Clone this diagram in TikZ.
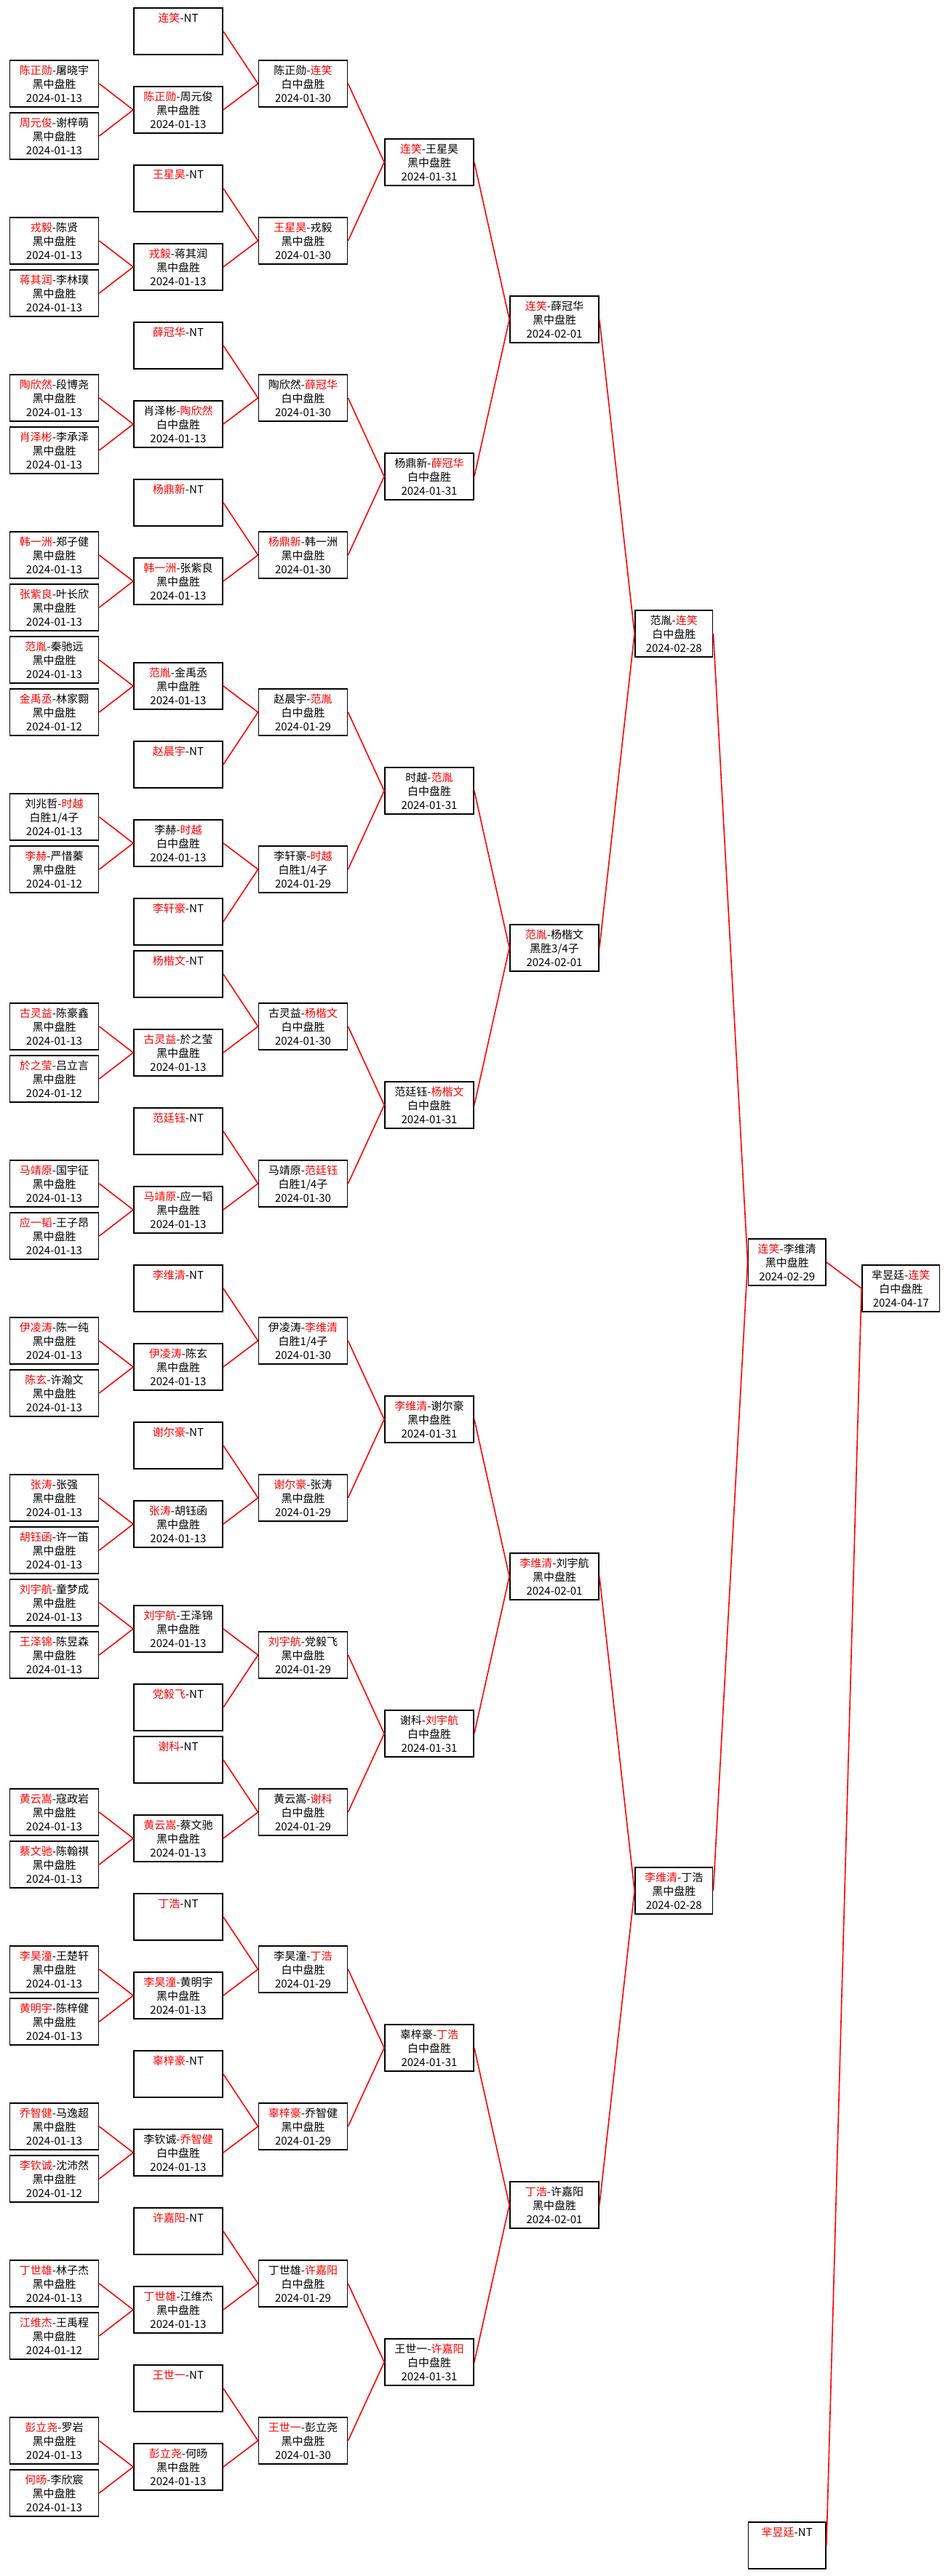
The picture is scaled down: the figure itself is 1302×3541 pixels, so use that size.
\documentclass[tikz,border=0pt]{standalone}
\usepackage{fontspec}
\setmainfont{Noto Sans CJK SC}
\newcommand\rn[1]{\textcolor{red}{#1}}
\newcommand\nt[1]{\rn{#1}-NT\\\phantom{黑}\\\phantom{0}}
\tikzset{
 box/.style={draw=black, line width=1.8pt, fill=white, rectangle, inner sep=0pt,
   minimum height=64pt, align=center, font=\fontsize{15}{19}\selectfont},
 conn/.style={draw=red, line width=1.6pt},
}
% name, x-left, slot, width, text
\newcommand\bx[5]{\node[box, minimum width=#4pt] (#1) at ({#2+#4/2},{-(43+72*#3)}) {#5};}
\begin{document}
\begin{tikzpicture}[x=1pt,y=1pt]
\useasboundingbox[fill=white] (0,0) rectangle (1302,-3541);
% ---------- column 0 ----------
\bx{a1}{13.5}{1}{122}{\rn{陈正勋}-屠晓宇\\黑中盘胜\\2024-01-13}
\bx{a2}{13.5}{2}{122}{\rn{周元俊}-谢梓萌\\黑中盘胜\\2024-01-13}
\bx{a4}{13.5}{4}{122}{\rn{戎毅}-陈贤\\黑中盘胜\\2024-01-13}
\bx{a5}{13.5}{5}{122}{\rn{蒋其润}-李林璞\\黑中盘胜\\2024-01-13}
\bx{a7}{13.5}{7}{122}{\rn{陶欣然}-段博尧\\黑中盘胜\\2024-01-13}
\bx{a8}{13.5}{8}{122}{\rn{肖泽彬}-李承泽\\黑中盘胜\\2024-01-13}
\bx{a10}{13.5}{10}{122}{\rn{韩一洲}-郑子健\\黑中盘胜\\2024-01-13}
\bx{a11}{13.5}{11}{122}{\rn{张紫良}-叶长欣\\黑中盘胜\\2024-01-13}
\bx{a12}{13.5}{12}{122}{\rn{范胤}-秦驰远\\黑中盘胜\\2024-01-13}
\bx{a13}{13.5}{13}{122}{\rn{金禹丞}-林家翾\\黑中盘胜\\2024-01-12}
\bx{a15}{13.5}{15}{122}{刘兆哲-\rn{时越}\\白胜1/4子\\2024-01-13}
\bx{a16}{13.5}{16}{122}{\rn{李赫}-严惜蓁\\黑中盘胜\\2024-01-12}
\bx{a19}{13.5}{19}{122}{\rn{古灵益}-陈豪鑫\\黑中盘胜\\2024-01-13}
\bx{a20}{13.5}{20}{122}{\rn{於之莹}-吕立言\\黑中盘胜\\2024-01-12}
\bx{a22}{13.5}{22}{122}{\rn{马靖原}-国宇征\\黑中盘胜\\2024-01-13}
\bx{a23}{13.5}{23}{122}{\rn{应一韬}-王子昂\\黑中盘胜\\2024-01-13}
\bx{a25}{13.5}{25}{122}{\rn{伊凌涛}-陈一纯\\黑中盘胜\\2024-01-13}
\bx{a26}{13.5}{26}{122}{\rn{陈玄}-许瀚文\\黑中盘胜\\2024-01-13}
\bx{a28}{13.5}{28}{122}{\rn{张涛}-张强\\黑中盘胜\\2024-01-13}
\bx{a29}{13.5}{29}{122}{\rn{胡钰函}-许一笛\\黑中盘胜\\2024-01-13}
\bx{a30}{13.5}{30}{122}{\rn{刘宇航}-童梦成\\黑中盘胜\\2024-01-13}
\bx{a31}{13.5}{31}{122}{\rn{王泽锦}-陈昱森\\黑中盘胜\\2024-01-13}
\bx{a34}{13.5}{34}{122}{\rn{黄云嵩}-寇政岩\\黑中盘胜\\2024-01-13}
\bx{a35}{13.5}{35}{122}{\rn{蔡文驰}-陈翰祺\\黑中盘胜\\2024-01-13}
\bx{a37}{13.5}{37}{122}{\rn{李昊潼}-王楚轩\\黑中盘胜\\2024-01-13}
\bx{a38}{13.5}{38}{122}{\rn{黄明宇}-陈梓健\\黑中盘胜\\2024-01-13}
\bx{a40}{13.5}{40}{122}{\rn{乔智健}-马逸超\\黑中盘胜\\2024-01-13}
\bx{a41}{13.5}{41}{122}{\rn{李钦诚}-沈沛然\\黑中盘胜\\2024-01-12}
\bx{a43}{13.5}{43}{122}{\rn{丁世雄}-林子杰\\黑中盘胜\\2024-01-13}
\bx{a44}{13.5}{44}{122}{\rn{江维杰}-王禹程\\黑中盘胜\\2024-01-12}
\bx{a46}{13.5}{46}{122}{\rn{彭立尧}-罗岩\\黑中盘胜\\2024-01-13}
\bx{a47}{13.5}{47}{122}{\rn{何旸}-李欣宸\\黑中盘胜\\2024-01-13}
% ---------- column 1: byes ----------
\bx{n0}{184}{0}{122}{\nt{连笑}}
\bx{n3}{184}{3}{122}{\nt{王星昊}}
\bx{n6}{184}{6}{122}{\nt{薛冠华}}
\bx{n9}{184}{9}{122}{\nt{杨鼎新}}
\bx{n14}{184}{14}{122}{\nt{赵晨宇}}
\bx{n17}{184}{17}{122}{\nt{李轩豪}}
\bx{n18}{184}{18}{122}{\nt{杨楷文}}
\bx{n21}{184}{21}{122}{\nt{范廷钰}}
\bx{n24}{184}{24}{122}{\nt{李维清}}
\bx{n27}{184}{27}{122}{\nt{谢尔豪}}
\bx{n32}{184}{32}{122}{\nt{党毅飞}}
\bx{n33}{184}{33}{122}{\nt{谢科}}
\bx{n36}{184}{36}{122}{\nt{丁浩}}
\bx{n39}{184}{39}{122}{\nt{辜梓豪}}
\bx{n42}{184}{42}{122}{\nt{许嘉阳}}
\bx{n45}{184}{45}{122}{\nt{王世一}}
% ---------- column 1: matches ----------
\bx{m1}{184}{1.5}{122}{\rn{陈正勋}-周元俊\\黑中盘胜\\2024-01-13}
\bx{m4}{184}{4.5}{122}{\rn{戎毅}-蒋其润\\黑中盘胜\\2024-01-13}
\bx{m7}{184}{7.5}{122}{肖泽彬-\rn{陶欣然}\\白中盘胜\\2024-01-13}
\bx{m10}{184}{10.5}{122}{\rn{韩一洲}-张紫良\\黑中盘胜\\2024-01-13}
\bx{m12}{184}{12.5}{122}{\rn{范胤}-金禹丞\\黑中盘胜\\2024-01-13}
\bx{m15}{184}{15.5}{122}{李赫-\rn{时越}\\白中盘胜\\2024-01-13}
\bx{m19}{184}{19.5}{122}{\rn{古灵益}-於之莹\\黑中盘胜\\2024-01-13}
\bx{m22}{184}{22.5}{122}{\rn{马靖原}-应一韬\\黑中盘胜\\2024-01-13}
\bx{m25}{184}{25.5}{122}{\rn{伊凌涛}-陈玄\\黑中盘胜\\2024-01-13}
\bx{m28}{184}{28.5}{122}{\rn{张涛}-胡钰函\\黑中盘胜\\2024-01-13}
\bx{m30}{184}{30.5}{122}{\rn{刘宇航}-王泽锦\\黑中盘胜\\2024-01-13}
\bx{m34}{184}{34.5}{122}{\rn{黄云嵩}-蔡文驰\\黑中盘胜\\2024-01-13}
\bx{m37}{184}{37.5}{122}{\rn{李昊潼}-黄明宇\\黑中盘胜\\2024-01-13}
\bx{m40}{184}{40.5}{122}{李钦诚-\rn{乔智健}\\白中盘胜\\2024-01-13}
\bx{m43}{184}{43.5}{122}{\rn{丁世雄}-江维杰\\黑中盘胜\\2024-01-13}
\bx{m46}{184}{46.5}{122}{\rn{彭立尧}-何旸\\黑中盘胜\\2024-01-13}
% ---------- column 2 ----------
\bx{b1}{355.5}{1}{122}{陈正勋-\rn{连笑}\\白中盘胜\\2024-01-30}
\bx{b4}{355.5}{4}{122}{\rn{王星昊}-戎毅\\黑中盘胜\\2024-01-30}
\bx{b7}{355.5}{7}{122}{陶欣然-\rn{薛冠华}\\白中盘胜\\2024-01-30}
\bx{b10}{355.5}{10}{122}{\rn{杨鼎新}-韩一洲\\黑中盘胜\\2024-01-30}
\bx{b13}{355.5}{13}{122}{赵晨宇-\rn{范胤}\\白中盘胜\\2024-01-29}
\bx{b16}{355.5}{16}{122}{李轩豪-\rn{时越}\\白胜1/4子\\2024-01-29}
\bx{b19}{355.5}{19}{122}{古灵益-\rn{杨楷文}\\白中盘胜\\2024-01-30}
\bx{b22}{355.5}{22}{122}{马靖原-\rn{范廷钰}\\白胜1/4子\\2024-01-30}
\bx{b25}{355.5}{25}{122}{伊凌涛-\rn{李维清}\\白胜1/4子\\2024-01-30}
\bx{b28}{355.5}{28}{122}{\rn{谢尔豪}-张涛\\黑中盘胜\\2024-01-29}
\bx{b31}{355.5}{31}{122}{\rn{刘宇航}-党毅飞\\黑中盘胜\\2024-01-29}
\bx{b34}{355.5}{34}{122}{黄云嵩-\rn{谢科}\\白中盘胜\\2024-01-29}
\bx{b37}{355.5}{37}{122}{李昊潼-\rn{丁浩}\\白中盘胜\\2024-01-29}
\bx{b40}{355.5}{40}{122}{\rn{辜梓豪}-乔智健\\黑中盘胜\\2024-01-29}
\bx{b43}{355.5}{43}{122}{丁世雄-\rn{许嘉阳}\\白中盘胜\\2024-01-29}
\bx{b46}{355.5}{46}{122}{\rn{王世一}-彭立尧\\黑中盘胜\\2024-01-30}
% ---------- column 3 ----------
\bx{c0}{529}{2.5}{122}{\rn{连笑}-王星昊\\黑中盘胜\\2024-01-31}
\bx{c1}{529}{8.5}{122}{杨鼎新-\rn{薛冠华}\\白中盘胜\\2024-01-31}
\bx{c2}{529}{14.5}{122}{时越-\rn{范胤}\\白中盘胜\\2024-01-31}
\bx{c3}{529}{20.5}{122}{范廷钰-\rn{杨楷文}\\白中盘胜\\2024-01-31}
\bx{c4}{529}{26.5}{122}{\rn{李维清}-谢尔豪\\黑中盘胜\\2024-01-31}
\bx{c5}{529}{32.5}{122}{谢科-\rn{刘宇航}\\白中盘胜\\2024-01-31}
\bx{c6}{529}{38.5}{122}{辜梓豪-\rn{丁浩}\\白中盘胜\\2024-01-31}
\bx{c7}{529}{44.5}{122}{王世一-\rn{许嘉阳}\\白中盘胜\\2024-01-31}
% ---------- column 4 ----------
\bx{d0}{701}{5.5}{122}{\rn{连笑}-薛冠华\\黑中盘胜\\2024-02-01}
\bx{d1}{701}{17.5}{122}{\rn{范胤}-杨楷文\\黑胜3/4子\\2024-02-01}
\bx{d2}{701}{29.5}{122}{\rn{李维清}-刘宇航\\黑中盘胜\\2024-02-01}
\bx{d3}{701}{41.5}{122}{\rn{丁浩}-许嘉阳\\黑中盘胜\\2024-02-01}
% ---------- column 5 ----------
\bx{e0}{873}{11.5}{106.5}{范胤-\rn{连笑}\\白中盘胜\\2024-02-28}
\bx{e1}{873}{35.5}{106.5}{\rn{李维清}-丁浩\\黑中盘胜\\2024-02-28}
% ---------- column 6 ----------
\bx{f}{1028.5}{23.5}{106.5}{\rn{连笑}-李维清\\黑中盘胜\\2024-02-29}
\bx{g}{1028.5}{48}{106.5}{\nt{芈昱廷}}
% ---------- column 7 ----------
\bx{h}{1185}{24}{106.5}{芈昱廷-\rn{连笑}\\白中盘胜\\2024-04-17}
% ---------- connectors ----------
\foreach \p in {1,4,7,10,12,15,19,22,25,28,30,34,37,40,43,46} {
  \pgfmathtruncatemacro\q{\p+1}
  \draw[conn] (a\p.east) -- (m\p.west);
  \draw[conn] (a\q.east) -- (m\p.west);
}
\foreach \m/\n/\b in {1/0/1,4/3/4,7/6/7,10/9/10,12/14/13,15/17/16,19/18/19,22/21/22,
  25/24/25,28/27/28,30/32/31,34/33/34,37/36/37,40/39/40,43/42/43,46/45/46} {
  \draw[conn] (m\m.east) -- (b\b.west);
  \draw[conn] (n\n.east) -- (b\b.west);
}
\foreach \b/\c in {1/0,4/0,7/1,10/1,13/2,16/2,19/3,22/3,25/4,28/4,31/5,34/5,37/6,40/6,43/7,46/7}
  \draw[conn] (b\b.east) -- (c\c.west);
\foreach \c/\d in {0/0,1/0,2/1,3/1,4/2,5/2,6/3,7/3}
  \draw[conn] (c\c.east) -- (d\d.west);
\foreach \d/\e in {0/0,1/0,2/1,3/1}
  \draw[conn] (d\d.east) -- (e\e.west);
\draw[conn] (e0.east) -- (f.west);
\draw[conn] (e1.east) -- (f.west);
\draw[conn] (f.east) -- (h.west);
\draw[conn] (g.east) -- (h.west);
\end{tikzpicture}
\end{document}
